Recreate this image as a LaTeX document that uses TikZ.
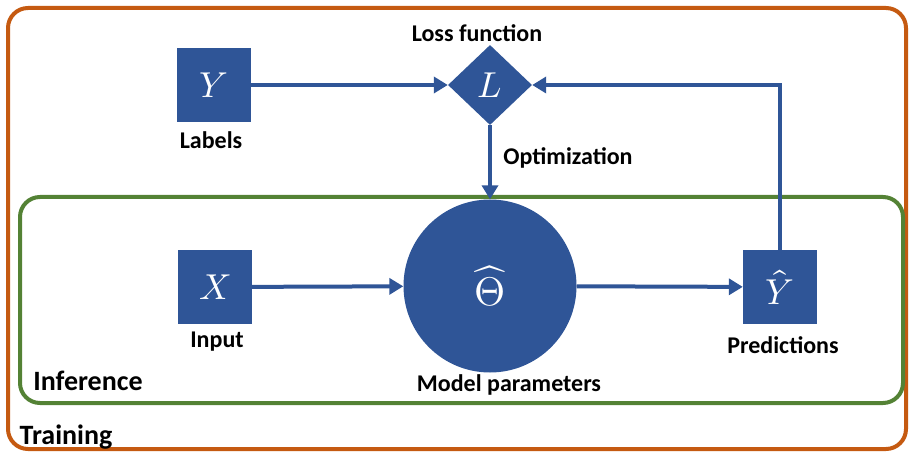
\documentclass[tikz,border=0pt]{standalone}
\usepackage{fontspec}
\usepackage{unicode-math}
\setmainfont{Carlito}
\setmathfont{Latin Modern Math}
\usetikzlibrary{shapes.geometric,arrows.meta}
\definecolor{nodeblue}{RGB}{47,85,151}
\definecolor{trainorange}{RGB}{197,90,17}
\definecolor{infergreen}{RGB}{84,130,53}
\tikzset{
  x=1pt, y=-1pt,
  var/.style={fill=nodeblue, draw=none, minimum size=74pt, inner sep=0pt, text=white, font=\fontsize{36}{36}\selectfont},
  lbl/.style={font=\fontsize{24}{24}\selectfont\bfseries, inner sep=0pt},
  title/.style={font=\fontsize{28}{28}\selectfont\bfseries, inner sep=0pt},
  flow/.style={draw=nodeblue, line width=4pt, -{Triangle[length=14pt,width=16pt]}},
  frame/.style={line width=4pt, rounded corners=20pt}
}
\begin{document}
\begin{tikzpicture}
\useasboundingbox (0,0) rectangle (910,454);
% outer training frame and inner inference frame
\draw[frame, draw=trainorange] (8,8) rectangle (906,449);
\draw[frame, draw=infergreen] (20,197) rectangle (903,403);
\node[title] (training) at (66,437) {Training};
\node[title] (inference) at (88,381) {Inference};

% nodes
\node[var] (Y) at (214,85) {$Y$};
\node[lbl] (labels) at (211,140) {Labels};
\node[diamond, fill=nodeblue, minimum width=84pt, minimum height=80pt, inner sep=0pt, text=white, font=\fontsize{36}{36}\selectfont] (L) at (490,85) {$L$};
\node[lbl] (loss) at (477,33) {Loss function};
\node[circle, fill=nodeblue, minimum size=173pt, inner sep=0pt, text=white, font=\fontsize{40}{40}\selectfont] (theta) at (490,286) {$\widehat{\Theta}$};
\node[lbl] (model) at (509,385) {Model parameters};
\node[var] (X) at (215,287) {$X$};
\node[lbl] (input) at (217,342) {Input};
\node[var] (Yhat) at (780,287) {$\hat{Y}$};
\node[lbl] (pred) at (783,345) {Predictions};
\node[lbl] (opt) at (568,158) {Optimization};

% connectors
\draw[flow] (Y) -- (L);
\draw[flow] (L) -- (theta);
\draw[flow] (X) -- (theta);
\draw[flow] (theta) -- (Yhat);
\draw[flow] (Yhat.north) |- (L.east);
\end{tikzpicture}
\end{document}
